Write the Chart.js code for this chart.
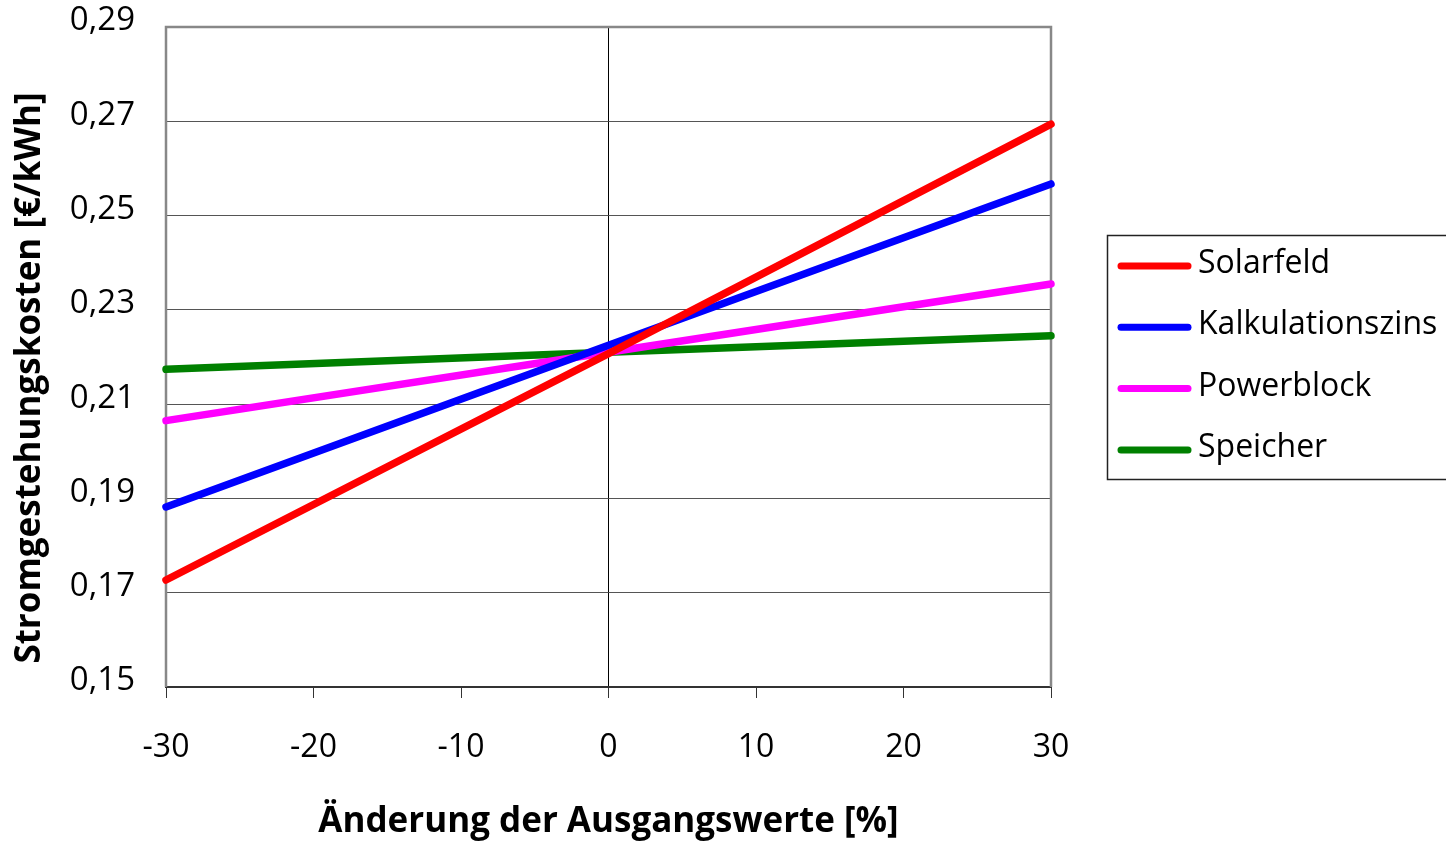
<!DOCTYPE html>
<html>
<head>
<meta charset="utf-8">
<script src="https://cdn.jsdelivr.net/npm/chart.js@4/dist/chart.umd.min.js"></script>
<style>
  html, body { margin: 0; padding: 0; background: #fff; }
  #wrap { width: 1446px; height: 843px; }
</style>
</head>
<body>
<div id="wrap"><canvas id="kosten"></canvas></div>
<script>
// Werte
const xWerte = [-30, 0, 30];
const solarfeld = [0.1727, 0.2207, 0.2694];
const kalkulationszins = [0.1882, 0.2225, 0.2567];
const powerblock = [0.2065, 0.2210, 0.2355];
const speicher = [0.2174, 0.2210, 0.2245];

const namen = ['Solarfeld', 'Kalkulationszins', 'Powerblock', 'Speicher'];
const farben = ['#ff0000', '#0000ff', '#ff00ff', '#008000'];
const reihen = [solarfeld, kalkulationszins, powerblock, speicher];

const FONT = '"Open Sans", "DejaVu Sans", sans-serif';

function punkte(werte) {
  return xWerte.map((x, i) => ({ x: x, y: werte[i] }));
}

const datasets = reihen.map((r, i) => ({
  label: namen[i],
  data: punkte(r),
  borderColor: farben[i],
  backgroundColor: farben[i],
  borderWidth: 7.5,
  borderCapStyle: 'round',
  pointRadius: 0,
  tension: 0,
  clip: false
}));

// Rahmen, y-Titel und Legende mit Kasten
const extras = {
  id: 'extras',
  beforeDatasetsDraw(chart) {
    const ctx = chart.ctx, a = chart.chartArea;
    ctx.save();
    ctx.strokeStyle = '#888';
    ctx.lineWidth = 2.5;
    ctx.beginPath();
    ctx.moveTo(a.left, a.bottom);
    ctx.lineTo(a.left, a.top);
    ctx.lineTo(a.right, a.top);
    ctx.lineTo(a.right, a.bottom);
    ctx.stroke();
    ctx.restore();
  },
  afterDraw(chart) {
    const ctx = chart.ctx;
    ctx.save();
    // y-Achsentitel
    ctx.translate(30, 378);
    ctx.rotate(-Math.PI / 2);
    ctx.font = 'bold 35px ' + FONT;
    ctx.fillStyle = '#000';
    ctx.textAlign = 'center';
    ctx.textBaseline = 'middle';
    ctx.fillText('Stromgestehungskosten [€/kWh]', 0, 0);
    ctx.restore();

    // Legende
    ctx.save();
    ctx.strokeStyle = '#222';
    ctx.lineWidth = 1.5;
    ctx.strokeRect(1107.5, 235.5, 400, 244);
    ctx.font = '32px ' + FONT;
    ctx.textAlign = 'left';
    ctx.textBaseline = 'middle';
    chart.data.datasets.forEach((ds, i) => {
      const y = 266 + i * 61.3;
      ctx.strokeStyle = ds.borderColor;
      ctx.lineWidth = 7;
      ctx.lineCap = 'round';
      ctx.beginPath();
      ctx.moveTo(1121, y);
      ctx.lineTo(1188, y);
      ctx.stroke();
      ctx.fillStyle = '#000';
      ctx.fillText(ds.label, 1198, y - 2);
    });
    ctx.restore();
  }
};

new Chart(document.getElementById('kosten'), {
  type: 'line',
  data: { datasets: datasets },
  options: {
    responsive: true,
    maintainAspectRatio: false,
    animation: false,
    layout: { padding: { top: 27, right: 395, left: 0, bottom: 0 } },
    plugins: {
      legend: { display: false },
      tooltip: { enabled: false }
    },
    scales: {
      x: {
        type: 'linear',
        min: -30,
        max: 30,
        ticks: {
          stepSize: 10,
          padding: 31,
          color: '#000',
          font: { family: FONT, size: 32 }
        },
        grid: {
          color: c => (c.tick && c.tick.value === 0) ? '#000' : 'rgba(0,0,0,0)',
          tickColor: '#333',
          tickLength: 11,
          lineWidth: 1
        },
        border: { color: '#333', width: 2 },
        title: {
          display: true,
          text: 'Änderung der Ausgangswerte [%]',
          color: '#000',
          font: { family: FONT, size: 35, weight: 'bold' },
          padding: { top: 0, bottom: 0 }
        },
        afterFit: s => { s.height = 156; s.paddingLeft = 0; s.paddingRight = 0; }
      },
      y: {
        min: 0.15,
        max: 0.29,
        ticks: {
          stepSize: 0.02,
          padding: 31,
          labelOffset: -6,
          color: '#000',
          font: { family: FONT, size: 33 },
          callback: v => v.toFixed(2).replace('.', ',')
        },
        grid: { color: '#555', lineWidth: 1, drawTicks: false },
        border: { display: false },
        afterFit: s => { s.width = 166; s.paddingTop = 0; s.paddingBottom = 0; }
      }
    }
  },
  plugins: [extras]
});
</script>
</body>
</html>
